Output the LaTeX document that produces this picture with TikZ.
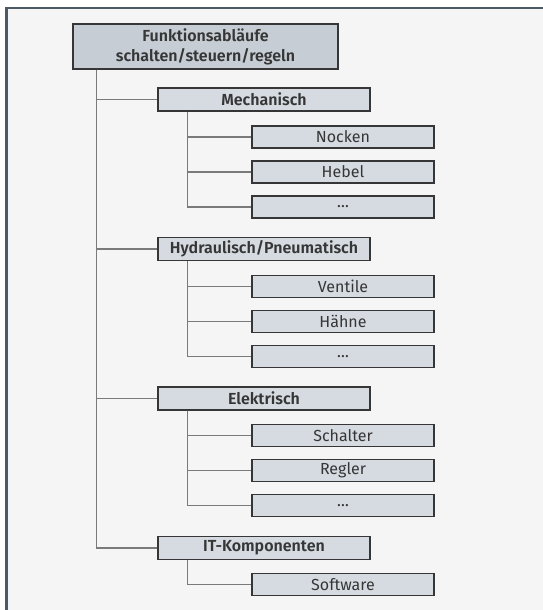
\documentclass[tikz,border=0pt]{standalone}
\usepackage{fontspec}
\setmainfont{Fira Sans}[BoldFont={Fira Sans SemiBold}]
\usetikzlibrary{positioning}

\definecolor{framecol}{HTML}{4B5A65}
\definecolor{pagecol}{HTML}{F5F5F5}
\definecolor{rootcol}{HTML}{C6CDD4}
\definecolor{boxcol}{HTML}{D5DBE1}
\definecolor{textcol}{HTML}{363636}
\definecolor{linecol}{HTML}{7A7A7A}

\begin{document}
\begin{tikzpicture}[
  x=1pt,
  y=-1pt,
  rootbox/.style={draw=textcol, fill=rootcol, line width=1.4pt, minimum width=265pt, minimum height=45pt, inner sep=0pt, align=center, text=textcol, font=\fontsize{16}{20}\selectfont\bfseries},
  groupbox/.style={draw=textcol, fill=boxcol, line width=1.4pt, minimum width=212pt, minimum height=23pt, inner sep=0pt, text=textcol, font=\fontsize{16}{18}\selectfont\bfseries},
  itembox/.style={draw=textcol, fill=boxcol, line width=1.4pt, minimum width=182pt, minimum height=22pt, inner sep=0pt, text=textcol, font=\fontsize{16}{18}\selectfont},
  conn/.style={draw=linecol, line width=1.4pt}
]
\useasboundingbox (0,0) rectangle (543,610);
\fill[pagecol] (7,9) rectangle (543,610);
\fill[framecol] (5,7) rectangle (543,9.5);
\fill[framecol] (5,7) rectangle (7.5,610);

\node[rootbox] (root) at (205.5,46.5) {Funktionsabläufe\\schalten/steuern/regeln};

\node[groupbox] (mech) at (264,99.5) {Mechanisch};
\node[itembox] (nocken) at (343,137) {Nocken};
\node[itembox] (hebel) at (343,172) {Hebel};
\node[itembox] (mechmore) at (343,207) {…};

\node[groupbox] (hyd) at (264,249) {Hydraulisch/Pneumatisch};
\node[itembox] (ventile) at (343,286.5) {Ventile};
\node[itembox] (haehne) at (343,321.5) {Hähne};
\node[itembox] (hydmore) at (343,356.5) {…};

\node[groupbox] (elek) at (264,398.5) {Elektrisch};
\node[itembox] (schalter) at (343,435.5) {Schalter};
\node[itembox] (regler) at (343,470.5) {Regler};
\node[itembox] (elekmore) at (343,505.5) {…};

\node[groupbox] (itk) at (264,548) {IT-Komponenten};
\node[itembox] (software) at (343,584.5) {Software};

% stems below the boxes
\coordinate (spine) at ([xshift=24pt]root.south west);
\coordinate (mechstem) at ([xshift=30pt]mech.south west);
\coordinate (hydstem) at ([xshift=30pt]hyd.south west);
\coordinate (elekstem) at ([xshift=30pt]elek.south west);
\coordinate (itkstem) at ([xshift=30pt]itk.south west);

\draw[conn] (spine) |- (mech.west);
\draw[conn] (spine) |- (hyd.west);
\draw[conn] (spine) |- (elek.west);
\draw[conn] (spine) |- (itk.west);

\draw[conn] (mechstem) |- (nocken.west);
\draw[conn] (mechstem) |- (hebel.west);
\draw[conn] (mechstem) |- (mechmore.west);

\draw[conn] (hydstem) |- (ventile.west);
\draw[conn] (hydstem) |- (haehne.west);
\draw[conn] (hydstem) |- (hydmore.west);

\draw[conn] (elekstem) |- (schalter.west);
\draw[conn] (elekstem) |- (regler.west);
\draw[conn] (elekstem) |- (elekmore.west);

\draw[conn] (itkstem) |- (software.west);
\end{tikzpicture}
\end{document}
